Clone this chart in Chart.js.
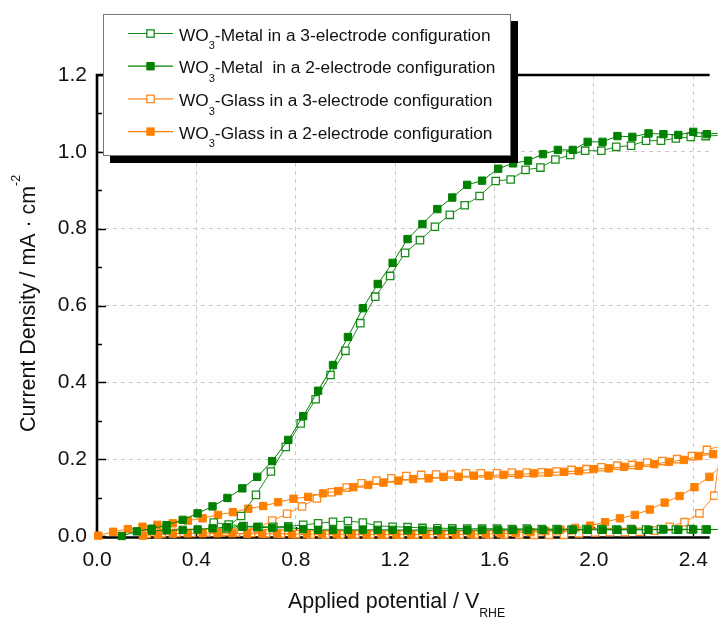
<!DOCTYPE html>
<html>
<head>
<meta charset="utf-8">
<script src="https://cdn.jsdelivr.net/npm/chart.js@4.4.1/dist/chart.umd.min.js"></script>
<style>
  html, body { margin: 0; padding: 0; background: #fff; }
  canvas { display: block; }
</style>
</head>
<body>
<canvas id="jv" width="720" height="617"></canvas>
<script>
// J-V sweeps of the WO3 photoanodes, forward and reverse branch of each scan

// WO3-Metal, 3-electrode (open green)
const metal3FwdV = [0.52, 0.58, 0.64, 0.70, 0.76, 0.82, 0.88, 0.94, 1.00, 1.06, 1.12, 1.18, 1.24, 1.30, 1.36, 1.42, 1.48, 1.54, 1.605, 1.665, 1.725, 1.785, 1.845, 1.905, 1.965, 2.03, 2.09, 2.15, 2.21, 2.27, 2.33, 2.39, 2.45, 2.51];
const metal3FwdJ = [0.02, 0.052, 0.107, 0.168, 0.232, 0.293, 0.356, 0.419, 0.482, 0.554, 0.623, 0.677, 0.737, 0.770, 0.805, 0.836, 0.861, 0.885, 0.924, 0.928, 0.953, 0.959, 0.980, 0.992, 1.003, 1.003, 1.013, 1.016, 1.029, 1.029, 1.035, 1.039, 1.041, 1.043];
const metal3RevV = [2.51, 2.45, 2.39, 2.33, 2.27, 2.21, 2.15, 2.09, 2.03, 1.97, 1.91, 1.85, 1.79, 1.73, 1.67, 1.61, 1.55, 1.49, 1.43, 1.37, 1.31, 1.25, 1.19, 1.13, 1.07, 1.01, 0.95, 0.89, 0.83, 0.77, 0.71, 0.65, 0.59, 0.53, 0.47];
const metal3RevJ = [0.017, 0.017, 0.018, 0.017, 0.018, 0.017, 0.018, 0.017, 0.018, 0.018, 0.017, 0.018, 0.018, 0.019, 0.018, 0.019, 0.019, 0.019, 0.020, 0.020, 0.021, 0.023, 0.024, 0.027, 0.035, 0.039, 0.037, 0.033, 0.029, 0.025, 0.024, 0.024, 0.026, 0.030, 0.035];

// WO3-Metal, 2-electrode (filled green)
const metal2FwdV = [0.10, 0.16, 0.22, 0.28, 0.345, 0.405, 0.465, 0.525, 0.585, 0.645, 0.705, 0.77, 0.83, 0.89, 0.95, 1.01, 1.07, 1.13, 1.19, 1.25, 1.31, 1.37, 1.43, 1.49, 1.55, 1.615, 1.675, 1.735, 1.795, 1.855, 1.915, 1.975, 2.035, 2.095, 2.155, 2.22, 2.28, 2.34, 2.40, 2.455, 2.51];
const metal2FwdJ = [0.0, 0.012, 0.019, 0.028, 0.042, 0.059, 0.077, 0.099, 0.124, 0.154, 0.195, 0.25, 0.312, 0.378, 0.445, 0.518, 0.593, 0.656, 0.711, 0.773, 0.812, 0.851, 0.881, 0.914, 0.925, 0.956, 0.97, 0.977, 0.994, 1.005, 1.005, 1.026, 1.026, 1.041, 1.039, 1.048, 1.046, 1.044, 1.052, 1.046, 1.049];
const metal2RevV = [2.51, 2.455, 2.40, 2.34, 2.28, 2.22, 2.155, 2.095, 2.035, 1.975, 1.915, 1.855, 1.795, 1.735, 1.675, 1.615, 1.55, 1.49, 1.43, 1.37, 1.31, 1.25, 1.19, 1.13, 1.07, 1.01, 0.95, 0.89, 0.83, 0.77, 0.705, 0.645, 0.585, 0.525, 0.465, 0.405, 0.345, 0.28, 0.22];
const metal2RevJ = [0.017, 0.017, 0.017, 0.016, 0.017, 0.016, 0.016, 0.016, 0.016, 0.016, 0.016, 0.016, 0.016, 0.016, 0.016, 0.016, 0.016, 0.015, 0.016, 0.015, 0.016, 0.015, 0.016, 0.016, 0.016, 0.016, 0.016, 0.016, 0.018, 0.022, 0.021, 0.023, 0.024, 0.023, 0.020, 0.017, 0.016, 0.015, 0.014];

// WO3-Glass, 3-electrode (open orange)
const glass3FwdV = [0.20, 0.26, 0.32, 0.38, 0.44, 0.50, 0.56, 0.62, 0.68, 0.74, 0.80, 0.86, 0.92, 0.98, 1.04, 1.10, 1.16, 1.22, 1.28, 1.34, 1.40, 1.46, 1.52, 1.58, 1.64, 1.70, 1.76, 1.82, 1.88, 1.94, 2.005, 2.065, 2.125, 2.185, 2.245, 2.305, 2.365, 2.425, 2.485];
const glass3FwdJ = [0.006, 0.007, 0.008, 0.008, 0.009, 0.009, 0.009, 0.008, 0.007, 0.006, 0.005, 0.004, 0.004, 0.004, 0.004, 0.004, 0.004, 0.004, 0.004, 0.004, 0.004, 0.004, 0.004, 0.004, 0.004, 0.004, 0.003, 0.003, 0.003, 0.007, 0.009, 0.010, 0.010, 0.011, 0.014, 0.024, 0.036, 0.059, 0.105];
const glass3RevV = [2.51, 2.455, 2.395, 2.335, 2.275, 2.215, 2.155, 2.095, 2.03, 1.97, 1.91, 1.85, 1.79, 1.73, 1.67, 1.61, 1.545, 1.485, 1.425, 1.365, 1.305, 1.245, 1.185, 1.125, 1.065, 1.005, 0.945, 0.885, 0.825, 0.765, 0.705, 0.645, 0.58, 0.52];
const glass3RevJ = [0.234, 0.224, 0.208, 0.200, 0.195, 0.191, 0.185, 0.183, 0.179, 0.174, 0.172, 0.168, 0.166, 0.165, 0.165, 0.163, 0.163, 0.163, 0.160, 0.160, 0.159, 0.156, 0.150, 0.144, 0.137, 0.126, 0.114, 0.098, 0.077, 0.058, 0.040, 0.020, 0.016, 0.011];

// WO3-Glass, 2-electrode (filled orange)
const glass2FwdV = [0.185, 0.245, 0.305, 0.365, 0.425, 0.485, 0.545, 0.605, 0.665, 0.725, 0.785, 0.845, 0.905, 0.965, 1.025, 1.085, 1.145, 1.205, 1.265, 1.325, 1.385, 1.445, 1.505, 1.565, 1.625, 1.685, 1.745, 1.805, 1.865, 1.925, 1.985, 2.045, 2.105, 2.165, 2.225, 2.285, 2.345, 2.405, 2.465, 2.525];
const glass2FwdJ = [0.001, 0.004, 0.006, 0.007, 0.007, 0.007, 0.007, 0.006, 0.006, 0.006, 0.005, 0.005, 0.005, 0.005, 0.004, 0.004, 0.004, 0.004, 0.004, 0.004, 0.004, 0.004, 0.005, 0.005, 0.006, 0.008, 0.010, 0.013, 0.017, 0.021, 0.027, 0.036, 0.046, 0.055, 0.069, 0.087, 0.104, 0.127, 0.154, 0.19];
const glass2RevV = [2.48, 2.421, 2.362, 2.302, 2.243, 2.181, 2.121, 2.06, 1.999, 1.939, 1.88, 1.817, 1.757, 1.697, 1.636, 1.576, 1.517, 1.455, 1.395, 1.335, 1.272, 1.213, 1.153, 1.092, 1.032, 0.971, 0.91, 0.85, 0.791, 0.729, 0.669, 0.609, 0.547, 0.487, 0.425, 0.366, 0.305, 0.243, 0.183, 0.124, 0.065, 0.005];
const glass2RevJ = [0.213, 0.208, 0.198, 0.193, 0.187, 0.183, 0.180, 0.176, 0.174, 0.169, 0.167, 0.165, 0.163, 0.160, 0.159, 0.157, 0.157, 0.154, 0.154, 0.150, 0.148, 0.144, 0.139, 0.133, 0.127, 0.117, 0.111, 0.102, 0.097, 0.088, 0.078, 0.071, 0.062, 0.055, 0.046, 0.040, 0.033, 0.029, 0.024, 0.018, 0.011, 0.001];

const xTicks = [0.0, 0.4, 0.8, 1.2, 1.6, 2.0, 2.4];
const yTicks = [0.0, 0.2, 0.4, 0.6, 0.8, 1.0, 1.2];

// legend text split as [before subscript, subscript, after]
const seriesNames = [
  ['WO', '3', '-Metal in a 3-electrode configuration'],
  ['WO', '3', '-Metal  in a 2-electrode configuration'],
  ['WO', '3', '-Glass in a 3-electrode configuration'],
  ['WO', '3', '-Glass in a 2-electrode configuration']
];

const FONT = '"Liberation Sans", Arial, Helvetica, sans-serif';
const GREEN = '#008000';
const ORANGE = '#ff8000';

function sweep(fv, fj, rv, rj) {
  const pts = [];
  fv.forEach((v, i) => pts.push({ x: v, y: fj[i] }));
  rv.forEach((v, i) => pts.push({ x: v, y: rj[i] }));
  return pts;
}

function series(idx, pts, color, open, order) {
  return {
    label: seriesNames[idx].join(''),
    data: pts,
    showLine: true,
    borderColor: color,
    borderWidth: 1,
    backgroundColor: open ? '#ffffff' : color,
    pointStyle: 'rect',
    pointRadius: 5.2,
    pointBorderWidth: open ? 1.3 : 1,
    pointBorderColor: color,
    pointBackgroundColor: open ? '#ffffff' : color,
    open: open,
    order: order,
    clip: 8
  };
}

const datasets = [
  series(0, sweep(metal3FwdV, metal3FwdJ, metal3RevV, metal3RevJ), '#1a8c1a', true, 1),
  series(1, sweep(metal2FwdV, metal2FwdJ, metal2RevV, metal2RevJ), GREEN, false, 0),
  series(2, sweep(glass3FwdV, glass3FwdJ, glass3RevV, glass3RevJ), '#ff8a1f', true, 3),
  series(3, sweep(glass2FwdV, glass2FwdJ, glass2RevV, glass2RevJ), ORANGE, false, 2)
];

// writes a run of text pieces, each with its own size and vertical shift
function richText(ctx, x, y, parts) {
  parts.forEach(p => {
    ctx.font = p.size + 'px ' + FONT;
    ctx.fillText(p.t, x, y + (p.dy || 0));
    x += ctx.measureText(p.t).width;
  });
  return x;
}

const frame = {
  id: 'frame',
  beforeDatasetsDraw(chart) {
    const { ctx, chartArea: a, scales: { x, y } } = chart;
    ctx.save();
    ctx.strokeStyle = '#000';
    // inward tick marks
    ctx.lineWidth = 1.5;
    for (let k = 0; k <= 12; k++) {
      const py = Math.round(y.getPixelForValue(k / 10)) + 0.5;
      const len = k % 2 === 0 ? 9 : 5;
      ctx.beginPath(); ctx.moveTo(a.left, py); ctx.lineTo(a.left + len, py); ctx.stroke();
    }
    for (let k = 1; k <= 12; k++) {
      const px = Math.round(x.getPixelForValue(k / 5)) + 0.5;
      if (px > a.right) break;
      const len = k % 2 === 0 ? 9 : 5;
      ctx.beginPath(); ctx.moveTo(px, a.bottom); ctx.lineTo(px, a.bottom - len); ctx.stroke();
    }
    // axis lines and top frame
    ctx.lineWidth = 2.6;
    ctx.beginPath();
    ctx.moveTo(a.right, a.top);
    ctx.lineTo(a.left, a.top);
    ctx.lineTo(a.left, a.bottom + 1.5);
    ctx.moveTo(a.left - 1.3, a.bottom + 1.5);
    ctx.lineTo(a.right, a.bottom + 1.5);
    ctx.stroke();
    ctx.restore();
  },
  afterDraw(chart) {
    const { ctx } = chart;
    ctx.save();
    ctx.fillStyle = '#111';
    ctx.textAlign = 'left';
    ctx.textBaseline = 'alphabetic';

    // axis titles
    richText(ctx, 288, 608, [
      { t: 'Applied potential / V', size: 21.5 },
      { t: 'RHE', size: 12.3, dy: 9 }
    ]);
    ctx.save();
    ctx.translate(35, 432);
    ctx.rotate(-Math.PI / 2);
    richText(ctx, 0, 0, [
      { t: 'Current Density / mA \u00b7 cm', size: 21.4 },
      { t: '-2', size: 12.5, dy: -15 }
    ]);
    ctx.restore();

    // legend box with hard shadow
    const bx = 103, by = 14, bw = 408, bh = 142;
    ctx.fillStyle = '#000';
    ctx.fillRect(bx + 7, by + 7, bw, bh);
    ctx.fillStyle = '#fff';
    ctx.fillRect(bx, by, bw, bh);
    ctx.strokeStyle = '#777';
    ctx.lineWidth = 1;
    ctx.strokeRect(bx + 0.5, by + 0.5, bw - 1, bh - 1);

    const rows = [1, 0, 3, 2].length ? [0, 1, 2, 3] : [];
    rows.forEach((i, r) => {
      const ds = chart.data.datasets[i];
      const cy = 33.5 + r * 32.7;
      ctx.strokeStyle = ds.borderColor;
      ctx.lineWidth = 1.2;
      ctx.beginPath(); ctx.moveTo(128, cy); ctx.lineTo(173, cy); ctx.stroke();
      const s = 7.4;
      if (ds.open) {
        ctx.fillStyle = '#fff';
        ctx.fillRect(150.5 - s / 2, cy - s / 2, s, s);
        ctx.lineWidth = 1.3;
        ctx.strokeRect(150.5 - s / 2, cy - s / 2, s, s);
      } else {
        ctx.fillStyle = ds.borderColor;
        ctx.fillRect(150.5 - s / 2 - 0.5, cy - s / 2 - 0.5, s + 1, s + 1);
      }
      ctx.fillStyle = '#111';
      const n = seriesNames[i];
      richText(ctx, 179, cy + 7.2, [
        { t: n[0], size: 17.3 },
        { t: n[1], size: 11, dy: 8.5 },
        { t: n[2], size: 17.3 }
      ]);
    });
    ctx.restore();
  }
};

new Chart(document.getElementById('jv').getContext('2d'), {
  type: 'scatter',
  data: { datasets: datasets },
  options: {
    responsive: false,
    animation: false,
    layout: { padding: { top: 75, left: 0, right: 0, bottom: 0 } },
    plugins: { legend: { display: false }, tooltip: { enabled: false } },
    scales: {
      x: {
        type: 'linear',
        min: 0,
        max: 2.466,
        afterBuildTicks: s => { s.ticks = xTicks.map(v => ({ value: v })); },
        afterFit: s => { s.height = 81; },
        grid: {
          drawTicks: false,
          lineWidth: 1,
          color: c => (c.tick && c.tick.value === 0) ? 'rgba(0,0,0,0)' : '#c8c8c8'
        },
        border: { display: false, dash: [4, 4] },
        ticks: {
          color: '#111',
          font: { family: FONT, size: 21 },
          padding: 12,
          maxRotation: 0,
          autoSkip: false,
          callback: v => Number(v).toFixed(1)
        }
      },
      y: {
        type: 'linear',
        min: 0,
        max: 1.2,
        afterBuildTicks: s => { s.ticks = yTicks.map(v => ({ value: v })); },
        afterFit: s => { s.width = 97; },
        grid: {
          drawTicks: false,
          lineWidth: 1,
          color: c => (c.tick && (c.tick.value === 0 || c.tick.value === 1.2)) ? 'rgba(0,0,0,0)' : '#c8c8c8'
        },
        border: { display: false, dash: [4, 4] },
        ticks: {
          color: '#111',
          font: { family: FONT, size: 21 },
          padding: 10,
          autoSkip: false,
          callback: v => Number(v).toFixed(1)
        }
      }
    }
  },
  plugins: [frame]
});
</script>
</body>
</html>
